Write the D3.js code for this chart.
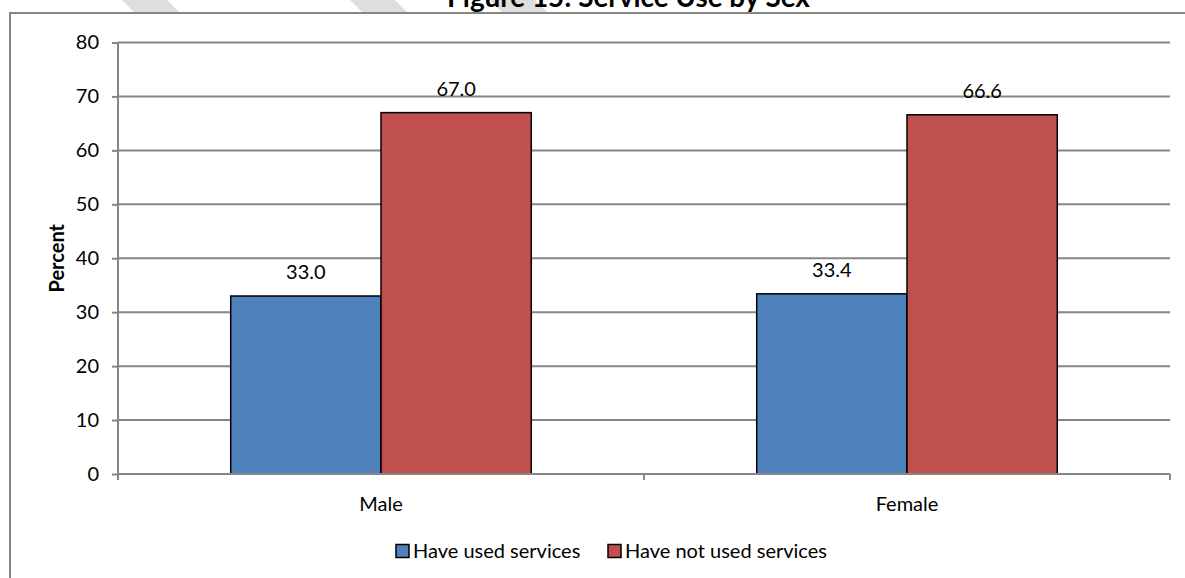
<!DOCTYPE html>
<html>
<head>
<meta charset="utf-8">
<script src="https://cdn.jsdelivr.net/npm/d3@7"></script>
<style>
  body { margin: 0; background: #fff; }
  text { font-family: "Lato", "Carlito", "Open Sans", sans-serif; fill: #000; }
</style>
</head>
<body>
<div id="chart"></div>
<script>

// DATA
let categories = ["Male", "Female"];
let seriesNames = ["Have used services", "Have not used services"];
let usedValues = [33.0, 33.4];
let notUsedValues = [67.0, 66.6];
let yTicks = [0, 10, 20, 30, 40, 50, 60, 70, 80];
let titleText = "Figure 15: Service Use by Sex";
let yLabel = "Percent";

let colors = ["#4F81BD", "#C0504D"];

// CHART AREA
let W = 1185, H = 578;
let margin = {top: 42.5, right: 15, bottom: 104, left: 118},
    width = 1170 - margin.left,
    height = 474 - margin.top;

let svg = d3.select("#chart").append("svg")
    .attr("width", W)
    .attr("height", H);

// faint watermark stripes behind the chart frame
let stripes = [122, 350, 490];
svg.selectAll(".stripe")
    .data(stripes)
    .enter()
    .append("polygon")
    .attr("class", "stripe")
    .attr("points", d => [[d, 0], [d + 45, 0], [d + 58, 13], [d + 13, 13]].join(" "))
    .attr("fill", "#dedede");

// frame (runs past the right and bottom edges of the picture)
svg.append("rect")
    .attr("x", 10)
    .attr("y", 13)
    .attr("width", 1240)
    .attr("height", 700)
    .attr("fill", "#fff")
    .attr("stroke", "#868686")
    .attr("stroke-width", 2);

// title, mostly cut off by the top edge like in the source
let title = svg.append("text")
    .attr("x", 628.5)
    .attr("y", 7)
    .attr("text-anchor", "middle")
    .attr("font-weight", "bold")
    .attr("font-size", 30)
    .text(titleText);
let tw = title.node().getComputedTextLength();
title.attr("font-size", 30 * 363 / tw);

let g = svg.append("g")
    .attr("transform", "translate(" + margin.left + "," + margin.top + ")");

// SCALES
let x0 = d3.scaleBand()
    .domain(categories)
    .range([0, width])
    .paddingInner(0)
    .paddingOuter(0);

let x1 = d3.scaleBand()
    .domain(seriesNames)
    .range([0, x0.bandwidth()])
    .paddingInner(0)
    .paddingOuter(0.75);

let y = d3.scaleLinear()
    .domain([0, 80])
    .range([height, 0]);

// GRIDLINES
g.append("g")
    .selectAll("line")
    .data(yTicks.filter(d => d > 0))
    .enter()
    .append("line")
    .attr("x1", 0)
    .attr("x2", width)
    .attr("y1", d => y(d))
    .attr("y2", d => y(d))
    .attr("stroke", "#868686")
    .attr("stroke-width", 2);

// BARS
let rows = categories.map((c, i) => ({
    category: c,
    values: [
        {series: seriesNames[0], value: usedValues[i], color: colors[0]},
        {series: seriesNames[1], value: notUsedValues[i], color: colors[1]}
    ]
}));

let groups = g.selectAll(".group")
    .data(rows)
    .enter()
    .append("g")
    .attr("class", "group")
    .attr("transform", d => "translate(" + x0(d.category) + ",0)");

groups.selectAll("rect")
    .data(d => d.values)
    .enter()
    .append("rect")
    .attr("x", d => x1(d.series))
    .attr("y", d => y(d.value))
    .attr("width", x1.bandwidth())
    .attr("height", d => height - y(d.value))
    .attr("fill", d => d.color)
    .attr("stroke", "#000")
    .attr("stroke-width", 1.5);

groups.selectAll(".label")
    .data(d => d.values)
    .enter()
    .append("text")
    .attr("class", "label")
    .attr("x", d => x1(d.series) + x1.bandwidth() / 2)
    .attr("y", d => y(d.value) - 17)
    .attr("text-anchor", "middle")
    .attr("font-size", 20)
    .text(d => d.value.toFixed(1));

// AXES
let yAxis = d3.axisLeft(y)
    .tickValues(yTicks)
    .tickSize(6)
    .tickPadding(13);

let yAxisGroup = g.append("g")
    .attr("class", "y-axis axis")
    .call(yAxis);
yAxisGroup.select(".domain").remove();
yAxisGroup.selectAll(".tick line").attr("stroke", "#868686").attr("stroke-width", 2);
yAxisGroup.selectAll(".tick text").attr("font-size", 20).attr("font-family", null);
yAxisGroup.append("line")
    .attr("x1", 0).attr("x2", 0)
    .attr("y1", 0).attr("y2", height + 6)
    .attr("stroke", "#868686")
    .attr("stroke-width", 2);

let xAxis = d3.axisBottom(x0)
    .tickSize(0)
    .tickPadding(23);

let xAxisGroup = g.append("g")
    .attr("class", "x-axis axis")
    .attr("transform", "translate(0," + height + ")")
    .call(xAxis);
xAxisGroup.select(".domain").remove();
xAxisGroup.selectAll(".tick text").attr("font-size", 20).attr("font-family", null);
xAxisGroup.append("line")
    .attr("x1", 0).attr("x2", width)
    .attr("y1", 0).attr("y2", 0)
    .attr("stroke", "#868686")
    .attr("stroke-width", 2);
// ticks sit between categories
xAxisGroup.selectAll(".sep")
    .data(d3.range(categories.length + 1))
    .enter()
    .append("line")
    .attr("class", "sep")
    .attr("x1", i => i * x0.step())
    .attr("x2", i => i * x0.step())
    .attr("y1", 0)
    .attr("y2", 6)
    .attr("stroke", "#868686")
    .attr("stroke-width", 2);

// Y LABEL
svg.append("text")
    .attr("transform", "translate(64," + (margin.top + height / 2) + ") rotate(-90)")
    .attr("text-anchor", "middle")
    .attr("font-weight", "bold")
    .attr("font-size", 20)
    .text(yLabel);

// LEGEND
let legendX = [396, 608];
let legend = svg.selectAll(".legend")
    .data(seriesNames)
    .enter()
    .append("g")
    .attr("class", "legend")
    .attr("transform", (d, i) => "translate(" + legendX[i] + ",551)");

legend.append("rect")
    .attr("x", 0)
    .attr("y", -6.5)
    .attr("width", 13)
    .attr("height", 13)
    .attr("fill", (d, i) => colors[i])
    .attr("stroke", "#000")
    .attr("stroke-width", 1.5);

legend.append("text")
    .attr("x", 17)
    .attr("y", 7)
    .attr("font-size", 20)
    .text(d => d);

</script>
</body>
</html>
